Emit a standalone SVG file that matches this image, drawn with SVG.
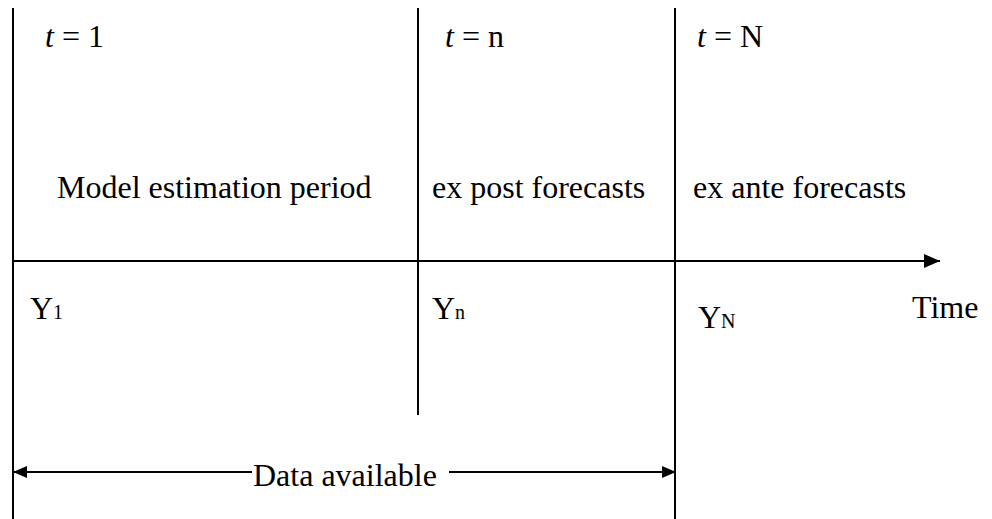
<svg xmlns="http://www.w3.org/2000/svg" width="992" height="519" viewBox="0 0 992 519">
<style>
  .ln { stroke: #000; stroke-width: 2; fill: none; }
  .tx { font-family: "Liberation Serif", "Times New Roman", serif; font-size: 32px; fill: #000; }
  .sub { font-size: 20px; }
  .it { font-style: italic; }
</style>
<defs>
  <marker id="ahBig" markerWidth="16" markerHeight="14" refX="16" refY="7" orient="auto" markerUnits="userSpaceOnUse" viewBox="0 0 16 14">
    <path d="M0,0 L16,7 L0,14 z" fill="#000"/>
  </marker>
  <marker id="ahData" markerWidth="14" markerHeight="12" refX="14" refY="6" orient="auto-start-reverse" markerUnits="userSpaceOnUse" viewBox="0 0 14 12">
    <path d="M0,0 L14,6 L0,12 z" fill="#000"/>
  </marker>
</defs>
<g id="connectors">
  <line class="ln" x1="13" y1="8" x2="13" y2="519"/>
  <line class="ln" x1="418" y1="8" x2="418" y2="415"/>
  <line class="ln" x1="675" y1="8" x2="675" y2="519"/>
  <line class="ln" x1="13" y1="261" x2="940" y2="261" marker-end="url(#ahBig)"/>
  <line class="ln" x1="13" y1="472" x2="252" y2="472" marker-start="url(#ahData)"/>
  <line class="ln" x1="449" y1="472" x2="676" y2="472" marker-end="url(#ahData)"/>
</g>
<g id="t1"><text class="tx" x="45" y="47"><tspan class="it">t</tspan> = 1</text></g>
<g id="tn"><text class="tx" x="445" y="47"><tspan class="it">t</tspan> = n</text></g>
<g id="tN"><text class="tx" x="697" y="47"><tspan class="it">t</tspan> = N</text></g>
<g id="model"><text class="tx" x="57" y="198">Model estimation period</text></g>
<g id="expost"><text class="tx" x="432" y="198">ex post forecasts</text></g>
<g id="exante"><text class="tx" x="693" y="198">ex ante forecasts</text></g>
<g id="y1"><text class="tx" x="30" y="319">Y<tspan class="sub">1</tspan></text></g>
<g id="yn"><text class="tx" x="432" y="319">Y<tspan class="sub">n</tspan></text></g>
<g id="yN"><text class="tx" x="698" y="328">Y<tspan class="sub">N</tspan></text></g>
<g id="time"><text class="tx" x="912" y="318">Time</text></g>
<g id="data"><text class="tx" x="253" y="486">Data available</text></g>
</svg>
